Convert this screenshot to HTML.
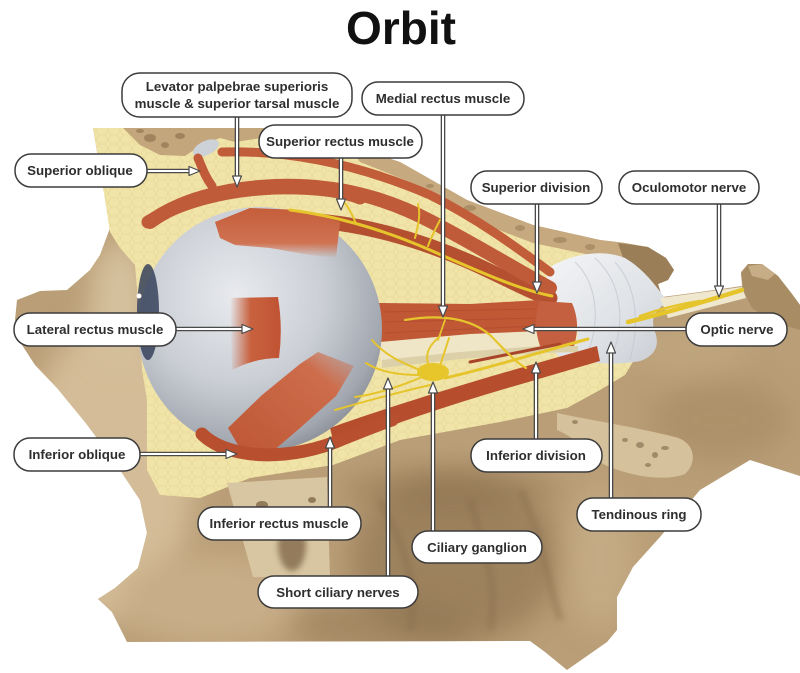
<!DOCTYPE html>
<html><head><meta charset="utf-8">
<style>
html,body{margin:0;padding:0;background:#fff;}
svg{display:block;}
text{font-family:"Liberation Sans",Arial,sans-serif;}
.lb{font-size:13.3px;font-weight:bold;fill:#2e2e2e;text-anchor:middle;}
.box{fill:#fff;stroke:#3c3c3c;stroke-width:1.5;}
.lo{stroke:#4a4a4a;stroke-width:4.6;fill:none;}
.li{stroke:#fff;stroke-width:2;fill:none;}
.ah{fill:#fff;stroke:#4a4a4a;stroke-width:1.2;stroke-linejoin:round;}
.nv{fill:none;stroke:#e6c52c;stroke-linecap:round;}
.mu{fill:none;stroke-linecap:round;}
</style></head><body>
<svg width="800" height="673" viewBox="0 0 800 673" xmlns="http://www.w3.org/2000/svg">
<defs>
 <filter id="bl" x="-50%" y="-50%" width="200%" height="200%"><feGaussianBlur stdDeviation="14"/></filter>
 <filter id="bl2" x="-50%" y="-50%" width="200%" height="200%"><feGaussianBlur stdDeviation="3"/></filter>
 <pattern id="fatp" width="12" height="9" patternUnits="userSpaceOnUse">
   <rect width="12" height="9" fill="#f1e4a8"/>
   <path d="M0,4.5 L3,0 L9,0 L12,4.5 L9,9 L3,9 Z" fill="none" stroke="#e6d695" stroke-width="0.6"/>
 </pattern>
 <radialGradient id="eyeg" cx="0.4" cy="0.36" r="0.72">
   <stop offset="0" stop-color="#e8eaee"/>
   <stop offset="0.5" stop-color="#cbcfd5"/>
   <stop offset="0.85" stop-color="#a2a7b0"/>
   <stop offset="1" stop-color="#7d828b"/>
 </radialGradient>
 <linearGradient id="lrg" x1="0" x2="1"><stop offset="0" stop-color="#c9623f" stop-opacity="0"/><stop offset="0.4" stop-color="#c9623f"/><stop offset="1" stop-color="#bf5333"/></linearGradient>
 <linearGradient id="srg" x1="0" y1="0" x2="0" y2="1"><stop offset="0" stop-color="#c45d3a"/><stop offset="0.7" stop-color="#cf7352"/><stop offset="1" stop-color="#cf7352" stop-opacity="0"/></linearGradient>
 <linearGradient id="ifg" x1="0" y1="1" x2="1" y2="0"><stop offset="0" stop-color="#bd5534"/><stop offset="0.75" stop-color="#cd6d4b"/><stop offset="1" stop-color="#cd6d4b" stop-opacity="0.2"/></linearGradient>
 <linearGradient id="ringg" x1="0" y1="0" x2="1" y2="1"><stop offset="0" stop-color="#f4f5f7"/><stop offset="0.6" stop-color="#dfe2e6"/><stop offset="1" stop-color="#c8ccd2"/></linearGradient>
 <clipPath id="sil"><path d="M93,128 L270,128 L335,140 L400,162 L467,200 L533,225 L600,240 L625,243 L648,247 L666,258 L674,270 L668,280 L658,284 L662,297 L700,292 L742,286 L741,272 L748,264 L762,264 L778,276 L792,294 L800,305 L800,476 L750,460 L700,490 L660,537 L633,567 L617,597 L617,630 L607,642 L567,670 L545,652 L530,641 L127,642 L112,612 L98,599 L115,588 L138,568 L147,533 L140,500 L112,458 L85,422 L57,388 L35,365 L22,345 L15,320 L17,300 L40,291 L67,290 L90,270 L100,255 L110,228 L103,187 Z"/></clipPath>
</defs>

<!-- Title -->
<text x="401" y="44" text-anchor="middle" style="font-size:46px;font-weight:bold;fill:#111;">Orbit</text>

<!-- Bone silhouette -->
<path d="M93,128 L270,128 L335,140 L400,162 L467,200 L533,225 L600,240 L625,243 L648,247 L666,258 L674,270 L668,280 L658,284 L662,297 L700,292 L742,286 L741,272 L748,264 L762,264 L778,276 L792,294 L800,305 L800,476 L750,460 L700,490 L660,537 L633,567 L617,597 L617,630 L607,642 L567,670 L545,652 L530,641 L127,642 L112,612 L98,599 L115,588 L138,568 L147,533 L140,500 L112,458 L85,422 L57,388 L35,365 L22,345 L15,320 L17,300 L40,291 L67,290 L90,270 L100,255 L110,228 L103,187 Z" fill="#b99e77"/>
<g clip-path="url(#sil)">
  <ellipse cx="110" cy="470" rx="85" ry="150" fill="#d3bc97" filter="url(#bl)"/>
  <ellipse cx="120" cy="300" rx="30" ry="60" fill="#d6c19e" filter="url(#bl)"/>
  <ellipse cx="210" cy="600" rx="90" ry="45" fill="#c8ae88" filter="url(#bl)"/>
  <ellipse cx="455" cy="560" rx="105" ry="85" fill="#947956" opacity="0.75" filter="url(#bl)"/>
  <ellipse cx="380" cy="625" rx="90" ry="25" fill="#8c7250" opacity="0.5" filter="url(#bl)"/>
  <ellipse cx="600" cy="560" rx="35" ry="70" fill="#c9b08a" opacity="0.7" filter="url(#bl)"/>
  <ellipse cx="720" cy="420" rx="70" ry="40" fill="#a48962" opacity="0.6" filter="url(#bl)"/>
  <ellipse cx="690" cy="350" rx="60" ry="25" fill="#c4aa82" opacity="0.6" filter="url(#bl)"/>
  <ellipse cx="450" cy="490" rx="110" ry="20" fill="#8a704e" opacity="0.5" filter="url(#bl)"/>
  <path d="M380,500 C400,540 420,580 410,630 M470,500 C480,540 500,580 490,630 M520,490 C540,530 545,570 560,620" stroke="#866c4b" stroke-width="7" fill="none" opacity="0.4" filter="url(#bl2)"/>
</g>

<!-- Fat -->
<path d="M93,128 L270,128 L335,142 L400,165 L467,205 L533,230 L600,248 L622,258 L640,290 L645,320 L640,350 L625,375 L600,390 L567,408 L500,422 L400,440 L333,465 L250,478 L200,498 L160,495 L147,470 L147,400 L142,370 L138,300 L135,265 L120,248 L110,232 L103,187 Z" fill="url(#fatp)"/>

<!-- Roof bone pieces -->
<path d="M123,128 L268,128 L262,138 L235,142 L220,138 L200,146 L185,156 L160,155 L140,145 Z" fill="#c4a67c"/>
<g fill="#8a6e4a" opacity="0.6">
 <ellipse cx="150" cy="138" rx="6" ry="4"/><ellipse cx="165" cy="145" rx="4" ry="3"/><ellipse cx="180" cy="136" rx="5" ry="3"/><ellipse cx="140" cy="131" rx="4" ry="2"/>
</g>
<path d="M350,148 L400,162 L467,200 L533,225 L600,240 L625,243 L628,260 L600,257 L533,243 L470,219 L410,182 L360,162 Z" fill="#c6a97f"/>
<g fill="#957a55" opacity="0.55">
 <ellipse cx="470" cy="208" rx="6" ry="3"/><ellipse cx="520" cy="228" rx="5" ry="3"/><ellipse cx="560" cy="240" rx="7" ry="3"/><ellipse cx="430" cy="186" rx="4" ry="2"/><ellipse cx="590" cy="247" rx="5" ry="3"/>
</g>
<!-- clinoid & knob -->
<path d="M618,243 L648,247 L666,258 L674,270 L668,280 L658,284 L662,297 L650,305 L636,298 L628,272 Z" fill="#9a7e57"/>
<path d="M741,274 L748,264 L762,264 L778,276 L792,294 L800,305 L800,330 L772,322 L752,308 L744,292 Z" fill="#a88c64"/>
<path d="M748,266 L762,264 L775,274 L768,280 L752,276 Z" fill="#c6ad87"/>

<!-- Tendinous ring -->
<path d="M548,268 C570,255 600,248 625,258 C645,270 655,285 668,302 C655,310 650,318 655,332 C660,345 655,356 640,361 C615,366 585,363 560,357 C545,345 538,320 543,300 Z" fill="url(#ringg)"/>
<path d="M575,262 C600,285 600,330 585,358 M595,258 C625,285 625,330 610,360 M615,262 C640,290 638,330 630,360" stroke="#c2c6cd" stroke-width="1.1" fill="none" opacity="0.7"/>

<!-- Optic nerve -->
<path d="M378,338 L460,330 L540,320 L578,325 L578,352 L540,353 L460,359 L382,368 Z" fill="#efe6c8"/>
<path d="M382,360 L460,352 L540,346 L578,346 L578,352 L540,353 L460,359 L382,368 Z" fill="#dcd0a8"/>
<path d="M660,298 L742,287 L746,298 L668,318 Z" fill="#efe8cf"/>

<!-- Muscles behind eye -->
<path class="mu" d="M222,152 C290,150 360,165 430,195 C480,220 520,250 550,272" stroke="#c25d3a" stroke-width="9"/>
<path class="mu" d="M300,220 C360,222 420,240 470,262 C510,280 530,292 550,298" stroke="#b4502f" stroke-width="15"/>
<path class="mu" d="M150,222 C180,200 225,188 275,186 C335,184 385,197 432,222 C480,247 520,272 550,288" stroke="#c05b39" stroke-width="14"/>
<path d="M378,303 L470,304 L540,300 L540,331 L470,334 L380,342 Z" fill="#c05836"/>
<path d="M385,312 L535,309 M385,322 L535,318 M385,333 L535,326" stroke="#a9472b" stroke-width="1" opacity="0.6"/>
<path d="M540,301 L572,303 Q581,323 574,346 L540,346 Q532,323 540,301 Z" fill="#c4603f"/>
<path d="M330,428 C380,410 450,388 520,368 L597,346 L600,361 L525,383 C455,403 385,426 335,448 Z" fill="#b64e2e"/>
<path class="mu" d="M470,362 L560,344" stroke="#a8452a" stroke-width="3"/>

<!-- Eye -->
<circle cx="260" cy="329" r="122" fill="url(#eyeg)"/>
<ellipse cx="148" cy="312" rx="11" ry="48" fill="#36425c" opacity="0.85"/>
<circle cx="139" cy="296" r="2.5" fill="#fff"/>

<!-- Muscles on eye -->
<path d="M215,222 L250,208 L300,210 L340,222 L336,258 L310,255 L270,248 L235,245 L220,238 Z" fill="url(#srg)"/>
<path class="mu" d="M148,222 C180,202 225,190 275,188 C320,187 345,192 360,198" stroke="#c05b39" stroke-width="13"/>
<path d="M230,298 L278,297 Q283,328 279,358 Q255,358 232,370 Z" fill="url(#lrg)"/>
<path d="M228,428 L262,395 L300,364 L318,352 L354,366 L336,396 L300,428 L272,452 L245,457 Z" fill="url(#ifg)"/>
<path class="mu" d="M202,434 C228,460 292,462 345,438 C365,430 380,424 392,420" stroke="#b8502f" stroke-width="13"/>
<!-- superior oblique tendon / trochlea -->
<ellipse cx="206" cy="148" rx="14" ry="7" fill="#cdd1d8" transform="rotate(-25 206 148)"/>
<path class="mu" d="M198,158 C203,170 206,178 212,186" stroke="#c05a38" stroke-width="9"/>

<!-- Nerves -->
<path class="nv" d="M290,210 C330,215 380,228 430,250 C480,272 520,290 552,296" stroke-width="3"/>
<path class="nv" d="M415,238 C418,225 421,215 418,204 M356,224 C352,213 348,206 342,200 M428,246 C432,235 436,228 440,220" stroke-width="2"/>
<path class="nv" d="M405,320 C440,314 470,318 490,335 C505,350 515,362 526,368" stroke-width="2.2"/>
<path class="nv" d="M445,320 L438,340" stroke-width="1.8"/>
<path class="nv" d="M445,378 C490,368 540,352 588,339" stroke-width="3"/>
<path class="nv" d="M420,370 C400,362 385,355 372,340 M418,375 C400,375 380,372 366,363 M420,378 C400,386 378,394 355,397 M428,364 C425,352 430,345 440,336 M440,366 L449,338 M335,410 C370,400 400,392 430,385" stroke-width="2"/>
<ellipse cx="433" cy="372" rx="16" ry="9" fill="#e7c62b"/>
<path class="nv" d="M628,322 C670,312 710,300 742,290" stroke-width="4.5"/>
<path class="nv" d="M640,316 C660,309 680,304 700,301" stroke-width="2.5"/>

<!-- Bone cross-sections -->
<path d="M227,483 L327,477 L330,577 L253,577 Z" fill="#d8c5a1"/>
<g fill="#7b6344" opacity="0.75">
 <ellipse cx="292" cy="545" rx="14" ry="26" filter="url(#bl2)"/>
 <ellipse cx="262" cy="505" rx="6" ry="4"/><ellipse cx="312" cy="500" rx="4" ry="3"/><ellipse cx="250" cy="525" rx="3" ry="2"/>
</g>
<path d="M557,413 C590,420 640,428 675,437 C695,442 698,462 685,474 C665,482 630,476 605,465 C590,455 580,440 557,430 Z" fill="#d5c19c"/>
<g fill="#7f6748" opacity="0.6">
 <ellipse cx="575" cy="422" rx="3" ry="2"/><ellipse cx="640" cy="445" rx="4" ry="3"/><ellipse cx="655" cy="455" rx="3" ry="3"/><ellipse cx="665" cy="448" rx="4" ry="2"/><ellipse cx="648" cy="465" rx="3" ry="2"/><ellipse cx="625" cy="440" rx="3" ry="2"/>
</g>

<!-- Leader lines -->
<g>
 <path class="lo" d="M237,116 V178 M443,114 V308 M341,157 V200 M537,203 V284 M719,203 V288 M330,508 V446 M388,577 V387 M433,532 V391 M536,440 V371 M611,499 V351 M146,171 H191 M175,329 H244 M139,454 H228 M687,329 H532"/>
 <path class="li" d="M237,116 V178 M443,114 V308 M341,157 V200 M537,203 V284 M719,203 V288 M330,508 V446 M388,577 V387 M433,532 V391 M536,440 V371 M611,499 V351 M146,171 H191 M175,329 H244 M139,454 H228 M687,329 H532"/>
 <polygon class="ah" points="232.5,176 241.5,176 237,187"/>
 <polygon class="ah" points="438.5,306 447.5,306 443,317"/>
 <polygon class="ah" points="336.5,199 345.5,199 341,210"/>
 <polygon class="ah" points="532.5,282 541.5,282 537,293"/>
 <polygon class="ah" points="714.5,286 723.5,286 719,297"/>
 <polygon class="ah" points="325.5,448 334.5,448 330,437"/>
 <polygon class="ah" points="383.5,389 392.5,389 388,378"/>
 <polygon class="ah" points="428.5,393 437.5,393 433,382"/>
 <polygon class="ah" points="531.5,373 540.5,373 536,362"/>
 <polygon class="ah" points="606.5,353 615.5,353 611,342"/>
 <polygon class="ah" points="189,166.5 189,175.5 200,171"/>
 <polygon class="ah" points="242,324.5 242,333.5 253,329"/>
 <polygon class="ah" points="226,449.5 226,458.5 237,454"/>
 <polygon class="ah" points="534,324.5 534,333.5 523,329"/>
</g>

<!-- Labels -->
<rect class="box" x="122" y="73" width="230" height="44" rx="18"/>
<text class="lb" x="237" y="91">Levator palpebrae superioris</text>
<text class="lb" x="237" y="108">muscle &amp; superior tarsal muscle</text>

<rect class="box" x="362" y="82" width="162" height="33" rx="16"/>
<text class="lb" x="443" y="103">Medial rectus muscle</text>

<rect class="box" x="259" y="125" width="163" height="33" rx="16"/>
<text class="lb" x="340" y="146">Superior rectus muscle</text>

<rect class="box" x="15" y="154" width="132" height="33" rx="16"/>
<text class="lb" x="80" y="175">Superior oblique</text>

<rect class="box" x="471" y="171" width="131" height="33" rx="16"/>
<text class="lb" x="536" y="192">Superior division</text>

<rect class="box" x="619" y="171" width="140" height="33" rx="16"/>
<text class="lb" x="689" y="192">Oculomotor nerve</text>

<rect class="box" x="686" y="313" width="101" height="33" rx="16"/>
<text class="lb" x="737" y="334">Optic nerve</text>

<rect class="box" x="14" y="313" width="162" height="33" rx="16"/>
<text class="lb" x="95" y="334">Lateral rectus muscle</text>

<rect class="box" x="14" y="438" width="126" height="33" rx="16"/>
<text class="lb" x="77" y="459">Inferior oblique</text>

<rect class="box" x="198" y="507" width="163" height="33" rx="16"/>
<text class="lb" x="279" y="528">Inferior rectus muscle</text>

<rect class="box" x="258" y="576" width="160" height="32" rx="16"/>
<text class="lb" x="338" y="597">Short ciliary nerves</text>

<rect class="box" x="412" y="531" width="130" height="32" rx="16"/>
<text class="lb" x="477" y="552">Ciliary ganglion</text>

<rect class="box" x="471" y="439" width="131" height="33" rx="16"/>
<text class="lb" x="536" y="460">Inferior division</text>

<rect class="box" x="577" y="498" width="124" height="33" rx="16"/>
<text class="lb" x="639" y="519">Tendinous ring</text>
</svg>
</body></html>
